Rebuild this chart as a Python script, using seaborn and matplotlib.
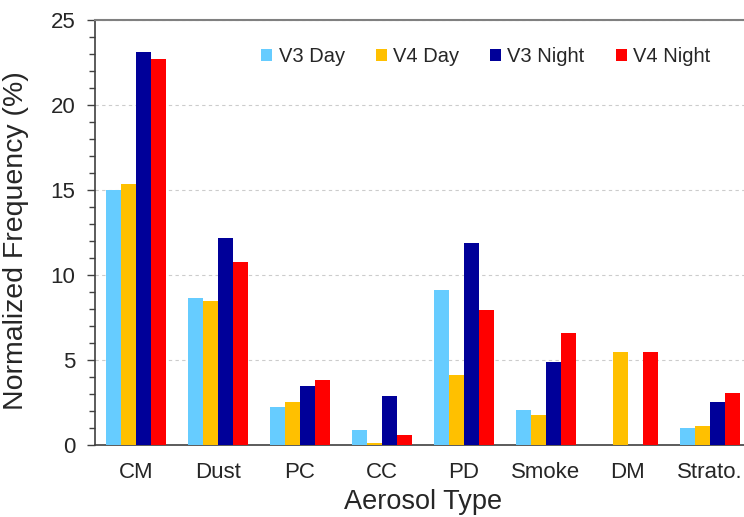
import seaborn as sns
import pandas as pd
import matplotlib.pyplot as plt
from matplotlib.ticker import MultipleLocator

aerosol_types = ['CM', 'Dust', 'PC', 'CC', 'PD', 'Smoke', 'DM', 'Strato.']
series_names = ['V3 Day', 'V4 Day', 'V3 Night', 'V4 Night']
v3_day = [15.0, 8.67, 2.22, 0.86, 9.12, 2.06, 0.0, 1.0]
v4_day = [15.33, 8.47, 2.53, 0.14, 4.12, 1.75, 5.47, 1.12]
v3_night = [23.1, 12.16, 3.49, 2.86, 11.9, 4.88, 0.0, 2.53]
v4_night = [22.7, 10.78, 3.82, 0.57, 7.94, 6.59, 5.47, 3.08]
colors = ['#66ccff', '#ffc000', '#000099', '#ff0000']

rows = []
for name, vals in zip(series_names, [v3_day, v4_day, v3_night, v4_night]):
    for t, v in zip(aerosol_types, vals):
        rows.append({'Aerosol Type': t, 'Series': name, 'Frequency': v})
df = pd.DataFrame(rows)

sns.set_style('white')
plt.rcParams['font.family'] = ['Liberation Sans', 'DejaVu Sans']

fig = plt.figure(figsize=(7.44, 5.17), dpi=100)
ax = fig.add_axes([0.1277, 0.1393, 0.8817, 0.822])

sns.barplot(data=df, x='Aerosol Type', y='Frequency', hue='Series',
            hue_order=series_names, order=aerosol_types, palette=colors,
            width=0.73, saturation=1, linewidth=0, ax=ax, zorder=3)

ax.set_ylim(0, 25)
ax.set_xlim(-0.5, 7.5)
ax.yaxis.set_major_locator(MultipleLocator(5))
ax.yaxis.set_minor_locator(MultipleLocator(1))
ax.tick_params(axis='y', which='major', left=True, length=6, width=1, color='#404040',
               labelsize=16, pad=8)
ax.tick_params(axis='y', which='minor', left=True, length=4, width=1, color='#404040')
ax.tick_params(axis='x', bottom=False, labelsize=16, pad=9)
ax.grid(axis='y', which='major', linestyle=(0, (3, 3)), color='#cccccc', linewidth=0.8, zorder=0)
ax.set_axisbelow(True)

for side in ['left', 'bottom']:
    ax.spines[side].set_color('#404040')
    ax.spines[side].set_linewidth(1.2)
ax.spines['top'].set_color('#808080')
ax.spines['top'].set_linewidth(1.5)
ax.spines['right'].set_visible(False)

ax.set_xlabel('Aerosol Type', fontsize=19.5, labelpad=4)
ax.set_ylabel('Normalized Frequency (%)', fontsize=20.5)
ax.yaxis.set_label_coords(-0.1, 0.48)

ax.legend(loc='center', bbox_to_anchor=(0.653, 0.89), bbox_transform=fig.transFigure,
          ncol=4, frameon=False, fontsize=14.5, handlelength=0.55, handleheight=0.55,
          handletextpad=0.3, columnspacing=1.55)

fig.savefig('out.png', dpi=100)
